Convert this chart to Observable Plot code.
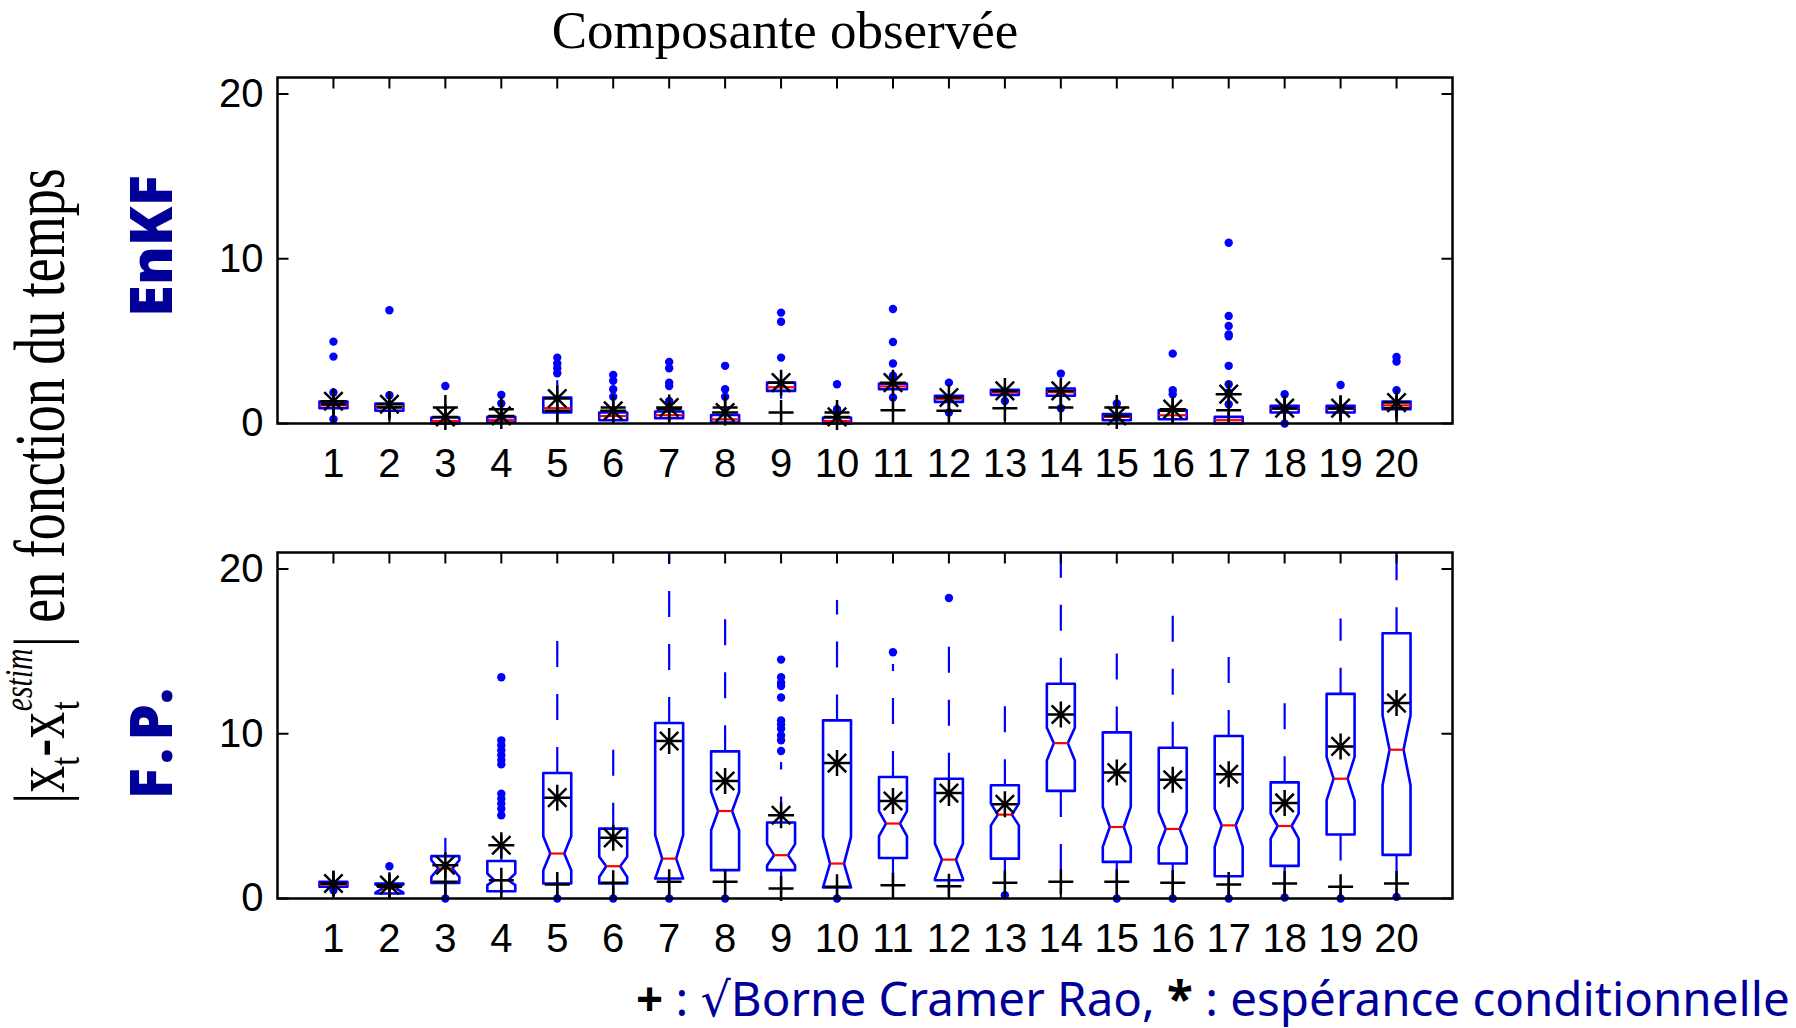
<!DOCTYPE html>
<html>
<head>
<meta charset="utf-8">
<script src="https://cdn.jsdelivr.net/npm/d3@7"></script>
<script src="https://cdn.jsdelivr.net/npm/@observablehq/plot@0.6"></script>
<style>
  html, body { margin: 0; padding: 0; background: #fff; }
  body { width: 1796px; height: 1028px; overflow: hidden; position: relative; }
  #wrap { position: relative; width: 1796px; height: 1028px; }
  .abs { position: absolute; white-space: nowrap; }
  #title { font-family: 'Liberation Serif', 'Times New Roman', serif; font-size: 53px; line-height: 1; left: 785px; top: 4px; transform: translateX(-50%); color: #000; }
  #ylab { font-family: 'Liberation Serif', 'Times New Roman', serif; font-size: 54px; line-height: 1; left: 34px; top: 486px; transform: translate(-50%, -50%) rotate(-90deg) scaleY(1.33); color: #000; }
  #ylab .ss { display: inline-block; position: relative; width: 1.2em; height: 1em; vertical-align: baseline; }
  #ylab .ss .sup { position: absolute; left: 0.02em; top: 0.2em; font-style: italic; font-size: 0.55em; }
  #ylab .ss .sub { position: absolute; left: 0.05em; top: 1.16em; font-size: 0.6em; }
  #ylab .sb { font-size: 0.6em; position: relative; top: 0.33em; }
  .panelName { font-family: 'Comic Sans MS', 'Noto Sans', 'DejaVu Sans', sans-serif; font-weight: 900; color: #000099; font-size: 58px; line-height: 1; transform: translate(-50%, -50%) rotate(-90deg); }
  #caption { font-family: 'Comic Sans MS', 'Noto Sans', 'DejaVu Sans', sans-serif; font-size: 47.5px; line-height: 1; color: #000099; left: 636px; top: 974px; }
  #caption .k { color: #000; font-weight: bold; }
  .chart { position: absolute; left: 0; }
</style>
</head>
<body>
<div id="wrap">
  <div id="title" class="abs">Composante observée</div>
  <div id="ylab" class="abs">|x<span class="sb">t</span>-x<span class="ss"><span class="sup">estim</span><span class="sub">t</span></span>| en fonction du temps</div>
  <div class="abs panelName" style="left:150px; top:246px;">EnKF</div>
  <div class="abs panelName" style="left:150px; top:740px; letter-spacing:7px;">F.P.</div>
  <div id="chart1" class="chart" style="top:40px;"></div>
  <div id="chart2" class="chart" style="top:515px;"></div>
  <div id="caption" class="abs"><span class="k">+</span> : √Borne Cramer Rao, <span class="k">*</span> : espérance conditionnelle</div>
</div>
<script>
// ---------- data ----------
const categories = [1,2,3,4,5,6,7,8,9,10,11,12,13,14,15,16,17,18,19,20];
const yTicks = [0, 10, 20];

// EnKF panel
const enkfQ1  = [0.93,0.77,0.00,0.06,0.67,0.20,0.32,0.06,1.98,0.00,2.08,1.31,1.74,1.68,0.20,0.26,0.00,0.67,0.67,0.87];
const enkfQ3  = [1.33,1.21,0.36,0.40,1.58,0.67,0.73,0.52,2.48,0.36,2.42,1.68,2.04,2.12,0.57,0.81,0.40,1.07,1.07,1.33];
const enkfMed = [1.10,1.00,0.15,0.20,0.93,0.45,0.50,0.25,2.20,0.15,2.25,1.50,1.90,1.90,0.40,0.50,0.20,0.90,0.90,1.10];
const enkfNotchLo = [null,null,null,null,null,null,null,null,null,null,null,null,null,null,null,null,null,null,null,null];
const enkfNotchHi = [null,null,null,null,null,null,null,null,null,null,null,null,null,null,null,null,null,null,null,null];
const enkfWhiskLo = [0.60,0.40,0.00,0.00,0.20,0.00,0.00,0.00,1.50,0.00,1.80,0.90,1.50,1.20,0.00,0.00,0.00,0.20,0.30,0.40];
const enkfWhiskHi = [1.70,1.50,0.80,0.90,2.63,1.30,1.30,1.10,3.10,0.80,2.90,2.10,2.30,2.60,1.10,1.40,0.90,1.50,1.60,1.90];
const enkfOutliers = [
  [4.97,4.06,1.88,0.26],[6.87,1.72],[2.28],[1.74,1.21],[4.00,3.64,3.35,3.05],
  [2.95,2.59,2.08,1.62],[3.74,3.35,2.48,2.28,1.37],[3.50,2.08,1.62],[6.73,6.18,4.00],[2.38,0.87],
  [6.95,4.95,3.64,2.90,1.58],[2.48,0.67],[1.37],[3.03,0.93],[1.21],
  [4.24,2.02,1.78],[10.97,6.53,5.92,5.41,5.30,3.50,2.38,1.88,1.17],[1.78,0.00],[2.34],[4.04,3.76,2.02]
];
const enkfCRB  = [1.17,0.97,0.97,0.87,0.77,0.97,0.87,0.97,0.67,0.67,0.81,0.77,0.93,0.97,0.97,0.77,0.81,0.93,0.93,0.93];
const enkfCE   = [1.35,1.17,0.40,0.46,1.52,0.77,0.97,0.67,2.48,0.40,2.48,1.58,1.98,1.98,0.46,0.87,1.78,0.93,0.93,1.27];

// F.P. panel
const fpQ1  = [0.71,0.30,0.95,0.44,0.91,0.91,1.21,1.72,1.72,0.67,2.46,1.11,2.42,6.53,2.22,2.12,1.35,1.98,3.88,2.65];
const fpQ3  = [1.01,0.91,2.57,2.28,7.62,4.24,10.65,8.93,4.61,10.81,7.37,7.27,6.87,13.03,10.08,9.15,9.86,7.05,12.42,16.10];
const fpMed = [0.85,0.60,1.82,1.11,2.73,1.96,2.42,5.31,2.63,2.12,4.55,2.36,5.09,9.43,4.34,4.22,4.44,4.40,7.27,9.03];
const fpNotchLo = [null,0.35,1.31,0.81,1.72,1.31,1.21,4.14,2.00,0.67,3.78,1.20,4.44,8.38,3.13,3.13,3.13,3.64,5.96,6.87];
const fpNotchHi = [null,0.85,2.32,1.52,3.78,2.53,3.84,6.46,3.30,3.74,5.31,3.33,5.76,10.36,5.56,5.25,5.45,5.15,8.59,11.11];
const fpWhiskLo = [0.60,0.10,0.10,0.00,0.30,0.30,0.30,0.40,0.30,0.20,0.40,0.30,0.30,1.00,0.30,0.30,0.30,0.30,0.80,0.30];
const fpWhiskHi = [1.10,1.50,3.68,4.50,15.66,9.03,23.0,16.97,8.28,18.12,14.24,15.30,13.30,23.0,14.95,17.23,14.69,11.88,17.00,23.0];
const fpOutliers = [
  [0.50],[1.96],[0.00],[13.43,9.60,9.30,9.00,8.70,8.40,8.14,6.36,6.06,5.76,5.45,5.05],[0.00],
  [0.00],[0.00],[0.00],[14.50,13.43,13.10,12.90,12.20,10.80,10.57,10.30,9.90,9.60,8.95],[0.00],
  [14.95],[18.24],[0.20],[],[0.00],
  [0.00],[0.00],[0.06],[0.00],[0.10]
];
const fpCRB = [0.90,0.71,1.01,1.11,0.85,0.95,1.01,1.01,0.61,0.71,0.81,0.75,0.95,1.01,1.01,0.95,0.85,0.91,0.71,0.91];
const fpCE  = [0.91,0.81,2.02,3.23,6.12,3.68,9.56,7.13,5.05,8.22,5.92,6.40,5.72,11.17,7.64,7.21,7.54,5.80,9.23,11.86];

// ---------- symbols (pixel-sized) ----------
const rad = s => Math.sqrt(s / Math.PI);
const plusSym = {draw(c, s){ const r = rad(s); c.moveTo(-r,0); c.lineTo(r,0); c.moveTo(0,-r); c.lineTo(0,r); }};
const starSym = {draw(c, s){ const r = rad(s), d = r*0.7071;
  c.moveTo(-r,0); c.lineTo(r,0); c.moveTo(0,-r); c.lineTo(0,r);
  c.moveTo(-d,-d); c.lineTo(d,d); c.moveTo(-d,d); c.lineTo(d,-d); }};
const tickDown  = {draw(c, s){ const r = rad(s); c.moveTo(0,0); c.lineTo(0, r); }};
const tickUp    = {draw(c, s){ const r = rad(s); c.moveTo(0,0); c.lineTo(0,-r); }};
const tickRight = {draw(c, s){ const r = rad(s); c.moveTo(0,0); c.lineTo(r, 0); }};
const tickLeft  = {draw(c, s){ const r = rad(s); c.moveTo(0,0); c.lineTo(-r,0); }};

const BLUE = "#0000ff", RED = "#ff0000";
const HALF = 0.25, NOTCH = 0.125;   // half box width, half notch width (category units)
const XDOM = [0, 21], YDOM = [0, 21];

function panel(d) {
  const poly = [], meds = [], whisk = [], outs = [], crb = [], ce = [];
  categories.forEach((c, i) => {
    const q1 = d.q1[i], q3 = d.q3[i], m = d.med[i];
    let nlo = d.nlo[i], nhi = d.nhi[i];
    let pts;
    if (nlo == null) {
      pts = [[c-HALF,q1],[c-HALF,q3],[c+HALF,q3],[c+HALF,q1],[c-HALF,q1]];
      meds.push({x1: c-HALF, x2: c+HALF, y: m});
    } else {
      nlo = Math.max(nlo, q1); nhi = Math.min(nhi, q3);
      pts = [[c-HALF,q1],[c-HALF,nlo],[c-NOTCH,m],[c-HALF,nhi],[c-HALF,q3],
             [c+HALF,q3],[c+HALF,nhi],[c+NOTCH,m],[c+HALF,nlo],[c+HALF,q1],[c-HALF,q1]];
      meds.push({x1: c-NOTCH, x2: c+NOTCH, y: m});
    }
    pts.forEach(p => poly.push({c, x: p[0], y: p[1]}));
    whisk.push({x: c, y1: q3, y2: d.hi[i]});
    whisk.push({x: c, y1: q1, y2: d.lo[i]});
    d.out[i].forEach(v => outs.push({x: c, y: v}));
    crb.push({x: c, y: d.crb[i]});
    ce.push({x: c, y: d.ce[i]});
  });
  const tickMarks = (data, symbol, opts) => Plot.dot(data, {...opts, symbol, r: 11, stroke: "black", strokeWidth: 2, fill: "none"});
  return Plot.plot({
    width: 1796, height: 453,
    marginLeft: 277, marginRight: 344, marginTop: 37, marginBottom: 70,
    x: {domain: XDOM, axis: null},
    y: {domain: YDOM, axis: null},
    style: {overflow: "visible", background: "transparent"},
    marks: [
      Plot.link(whisk, {x1: "x", x2: "x", y1: "y1", y2: "y2", stroke: BLUE, strokeWidth: 2.2, strokeDasharray: "26,27", clip: true}),
      Plot.line(poly, {x: "x", y: "y", z: "c", stroke: BLUE, strokeWidth: 2.6, curve: "linear"}),
      Plot.link(meds, {x1: "x1", x2: "x2", y1: "y", y2: "y", stroke: RED, strokeWidth: 2.2}),
      Plot.dot(outs, {x: "x", y: "y", r: 4.2, fill: BLUE, stroke: "none"}),
      Plot.dot(crb, {x: "x", y: "y", symbol: plusSym, r: 12.5, stroke: "black", strokeWidth: 2.5, fill: "none"}),
      Plot.dot(ce, {x: "x", y: "y", symbol: starSym, r: 13, stroke: "black", strokeWidth: 2.5, fill: "none"}),
      Plot.frame({stroke: "black", strokeWidth: 2.5}),
      tickMarks(categories, tickDown, {x: d => d, y: () => YDOM[1]}),
      tickMarks(categories, tickUp, {x: d => d, y: () => YDOM[0]}),
      tickMarks(yTicks, tickRight, {x: () => XDOM[0], y: d => d}),
      tickMarks(yTicks, tickLeft, {x: () => XDOM[1], y: d => d}),
      Plot.axisX({ticks: categories, tickSize: 0, tickPadding: 25, tickFormat: d => String(d), fontSize: 40, fontFamily: "'Liberation Sans', Arial, sans-serif", fill: "black"}),
      Plot.axisY({ticks: yTicks, tickSize: 0, tickPadding: 14, tickFormat: d => String(d), fontSize: 40, fontFamily: "'Liberation Sans', Arial, sans-serif", fill: "black"})
    ]
  });
}

document.getElementById("chart1").appendChild(panel({
  q1: enkfQ1, q3: enkfQ3, med: enkfMed, nlo: enkfNotchLo, nhi: enkfNotchHi,
  lo: enkfWhiskLo, hi: enkfWhiskHi, out: enkfOutliers, crb: enkfCRB, ce: enkfCE
}));
document.getElementById("chart2").appendChild(panel({
  q1: fpQ1, q3: fpQ3, med: fpMed, nlo: fpNotchLo, nhi: fpNotchHi,
  lo: fpWhiskLo, hi: fpWhiskHi, out: fpOutliers, crb: fpCRB, ce: fpCE
}));
</script>
</body>
</html>
